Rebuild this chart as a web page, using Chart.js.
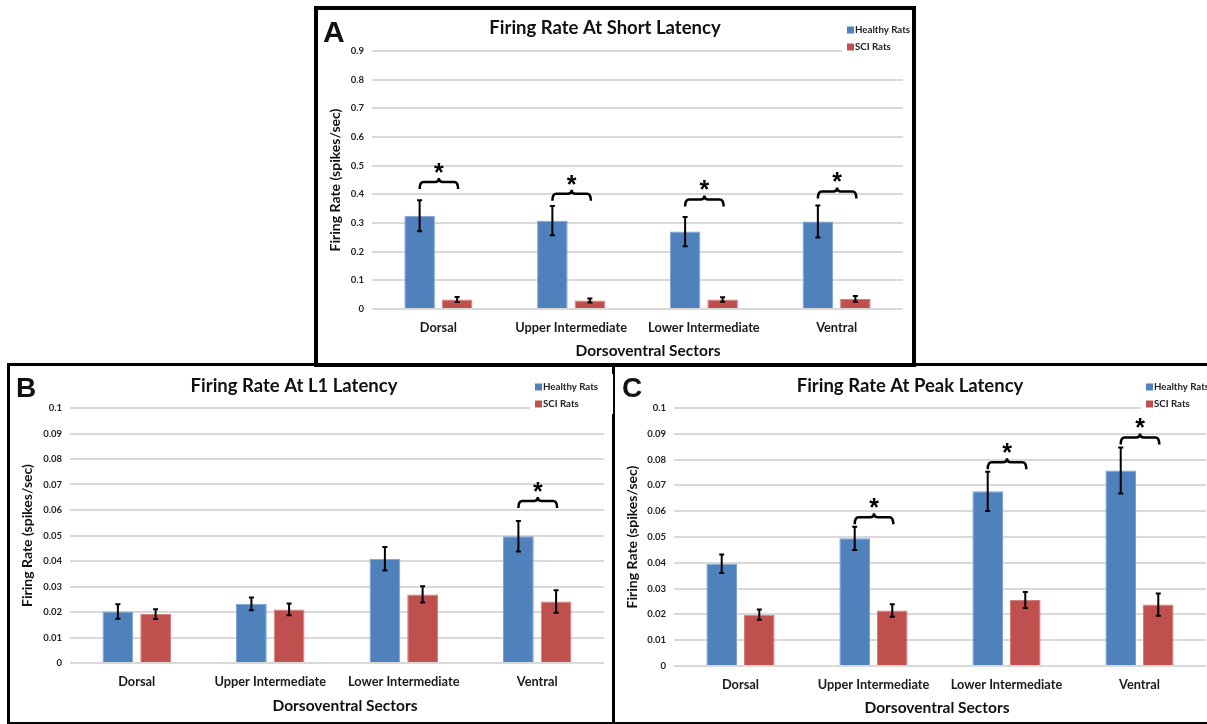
<!DOCTYPE html>
<html>
<head>
<meta charset="utf-8">
<title>Firing Rate by Dorsoventral Sector</title>
<script src="https://cdn.jsdelivr.net/npm/chart.js@4.4.1/dist/chart.umd.min.js"></script>
<style>
  body { margin: 0; width: 1207px; height: 724px; position: relative; overflow: hidden; background: #fff; }
  .box { position: absolute; border: 3px solid #000; box-sizing: border-box; background: #fff; }
  canvas { position: absolute; }
</style>
</head>
<body>
<div class="box" style="left:7px;top:363px;width:609px;height:362px"></div>
<div class="box" style="left:612px;top:363px;width:610px;height:362px"></div>
<div class="box" style="left:314px;top:6px;width:602px;height:361px;border-width:4px"></div>
<canvas id="chartA" width="594" height="353" style="left:318px;top:10px"></canvas>
<canvas id="chartB" width="603" height="355" style="left:10px;top:366px"></canvas>
<canvas id="chartC" width="592" height="355" style="left:615px;top:366px"></canvas>
<script>
// categories
const sectors = ['Dorsal', 'Upper Intermediate', 'Lower Intermediate', 'Ventral'];

// A - short latency
const healthyA = [0.325, 0.308, 0.270, 0.305];
const healthyErrA = [0.054, 0.051, 0.051, 0.056];
const sciA = [0.033, 0.030, 0.033, 0.035];
const sciErrA = [0.009, 0.007, 0.008, 0.010];
const braceA = [0.443, 0.402, 0.382, 0.410];
const yTicksA = [0, 0.1, 0.2, 0.3, 0.4, 0.5, 0.6, 0.7, 0.8, 0.9];
const yLabelsA = ['0', '0.1', '0.2', '0.3', '0.4', '0.5', '0.6', '0.7', '0.8', '0.9'];

// B - L1 latency
const healthyB = [0.0202, 0.0232, 0.0409, 0.0497];
const healthyErrB = [0.0028, 0.0025, 0.0046, 0.0060];
const sciB = [0.0192, 0.0210, 0.0269, 0.0241];
const sciErrB = [0.0019, 0.0023, 0.0032, 0.0044];
const braceB = [null, null, null, 0.0635];

// C - peak latency
const healthyC = [0.0396, 0.0495, 0.0677, 0.0758];
const healthyErrC = [0.0036, 0.0045, 0.0076, 0.0089];
const sciC = [0.0199, 0.0215, 0.0256, 0.0238];
const sciErrC = [0.0020, 0.0024, 0.0031, 0.0043];
const braceC = [null, 0.0577, 0.0790, 0.0886];

const yTicksBC = [0, 0.01, 0.02, 0.03, 0.04, 0.05, 0.06, 0.07, 0.08, 0.09, 0.1];
const yLabelsBC = ['0', '0.01', '0.02', '0.03', '0.04', '0.05', '0.06', '0.07', '0.08', '0.09', '0.1'];

const BLUE = '#4f81bd';
const RED = '#c0504d';
const FONT = 'Lato, "Open Sans", sans-serif';

// error bars, braces, legend, titles and panel letter
const decor = {
    id: 'decor',
    afterDatasetsDraw(chart, args, o) {
        const ctx = chart.ctx;
        const y = chart.scales.y;
        ctx.save();
        ctx.strokeStyle = '#000';
        ctx.lineWidth = 2;
        chart.data.datasets.forEach((ds, di) => {
            chart.getDatasetMeta(di).data.forEach((bar, i) => {
                const top = y.getPixelForValue(ds.data[i] + o.errors[di][i]);
                const bot = y.getPixelForValue(ds.data[i] - o.errors[di][i]);
                ctx.beginPath();
                ctx.moveTo(bar.x, top); ctx.lineTo(bar.x, bot);
                ctx.moveTo(bar.x - 2.5, top); ctx.lineTo(bar.x + 2.5, top);
                ctx.moveTo(bar.x - 2.5, bot); ctx.lineTo(bar.x + 2.5, bot);
                ctx.stroke();
            });
        });

        // significance braces
        const m0 = chart.getDatasetMeta(0).data;
        const m1 = chart.getDatasetMeta(1).data;
        ctx.lineWidth = 2.5;
        o.braces.forEach((lvl, i) => {
            if (lvl === null) return;
            const x1 = m0[i].x, x2 = m1[i].x + 1, xm = (x1 + x2) / 2;
            const yb = y.getPixelForValue(lvl);
            const h = 7, r = 4, p = 4;
            ctx.beginPath();
            ctx.moveTo(x1, yb + h);
            ctx.quadraticCurveTo(x1, yb, x1 + r, yb);
            ctx.lineTo(xm - r, yb);
            ctx.quadraticCurveTo(xm, yb, xm, yb - p);
            ctx.quadraticCurveTo(xm, yb, xm + r, yb);
            ctx.lineTo(x2 - r, yb);
            ctx.quadraticCurveTo(x2, yb, x2, yb + h);
            ctx.stroke();
            ctx.fillStyle = '#000';
            ctx.font = 'bold 25px "Liberation Sans", Arial, sans-serif';
            ctx.textAlign = 'center';
            ctx.textBaseline = 'alphabetic';
            ctx.fillText('*', xm, yb - 1);
        });
        ctx.restore();
    },
    afterDraw(chart, args, o) {
        const ctx = chart.ctx;
        ctx.save();
        // legend (covers the top grid line like the original)
        ctx.fillStyle = '#fff';
        ctx.fillRect(o.legendX - 5, 8, chart.width - o.legendX + 5, 40);
        chart.data.datasets.forEach((ds, di) => {
            const ly = o.legendY + di * 17;
            ctx.fillStyle = ds.backgroundColor;
            ctx.fillRect(o.legendX, ly - 3.5, 7, 7);
            ctx.fillStyle = '#222';
            ctx.font = 'bold 9.7px ' + FONT;
            ctx.textAlign = 'left';
            ctx.textBaseline = 'middle';
            ctx.fillText(ds.label, o.legendX + 8, ly);
        });
        // chart title
        ctx.fillStyle = '#111';
        ctx.font = 'bold 18.5px ' + FONT;
        ctx.textAlign = 'center';
        ctx.textBaseline = 'middle';
        ctx.fillText(o.title, o.titleX, o.titleY);
        // x axis title
        ctx.font = 'bold 15.5px ' + FONT;
        ctx.fillText('Dorsoventral Sectors', o.xTitleX, o.xTitleY);
        // panel letter
        ctx.font = 'bold ' + o.letterSize + 'px "Liberation Sans", Arial, sans-serif';
        ctx.textAlign = 'left';
        ctx.textBaseline = 'alphabetic';
        ctx.fillText(o.letter, o.letterX, o.letterY);
        ctx.restore();
    }
};

function makePanel(id, p) {
    const canvas = document.getElementById(id);
    return new Chart(canvas, {
        type: 'bar',
        data: {
            labels: sectors,
            datasets: [
                { label: 'Healthy Rats', data: p.healthy, backgroundColor: BLUE, borderColor: '#7f9fd0', borderWidth: 1 },
                { label: 'SCI Rats', data: p.sci, backgroundColor: RED, borderColor: '#d47c79', borderWidth: 1 }
            ]
        },
        options: {
            responsive: false,
            animation: false,
            devicePixelRatio: 1,
            layout: { padding: { top: p.chartTop, left: 0, right: p.padRight, bottom: 0 } },
            datasets: { bar: { categoryPercentage: 0.565, barPercentage: 0.815 } },
            plugins: {
                legend: { display: false },
                tooltip: { enabled: false },
                decor: {
                    errors: [p.healthyErr, p.sciErr],
                    braces: p.braces,
                    title: p.title,
                    titleX: p.titleX,
                    titleY: p.titleY,
                    xTitleX: p.xTitleX,
                    xTitleY: p.xTitleY,
                    legendX: p.legendX,
                    legendY: p.legendY,
                    letter: p.letter,
                    letterX: p.letterX,
                    letterY: p.letterY,
                    letterSize: p.letterSize
                }
            },
            scales: {
                x: {
                    grid: { display: false },
                    border: { display: false },
                    ticks: { padding: 3, color: '#1a1a1a', font: { family: FONT, size: 12.8, weight: 'bold' } },
                    afterFit: s => { s.height = canvas.height - p.chartBottom; }
                },
                y: {
                    min: 0,
                    max: p.yMax,
                    afterBuildTicks: s => { s.ticks = p.yTicks.map(v => ({ value: v })); },
                    ticks: {
                        padding: 8,
                        color: '#222',
                        font: { family: FONT, size: 9.5, weight: 'bold' },
                        callback: (v, i) => p.yLabels[i]
                    },
                    grid: { color: '#d9d9d9', lineWidth: 2, drawTicks: false },
                    border: { display: false },
                    title: {
                        display: true,
                        text: 'Firing Rate (spikes/sec)',
                        color: '#111',
                        font: { family: FONT, size: 14, weight: 'bold' },
                        padding: { top: 9, bottom: 0 }
                    },
                    afterFit: s => { s.width = p.chartLeft; }
                }
            }
        },
        plugins: [decor]
    });
}

makePanel('chartA', {
    healthy: healthyA, healthyErr: healthyErrA, sci: sciA, sciErr: sciErrA, braces: braceA,
    yMax: 0.9, yTicks: yTicksA, yLabels: yLabelsA,
    chartTop: 41, chartLeft: 54, padRight: 9, chartBottom: 299,
    title: 'Firing Rate At Short Latency', titleX: 287, titleY: 18, legendX: 529, legendY: 20,
    xTitleX: 330, xTitleY: 341,
    letter: 'A', letterX: 5, letterY: 32, letterSize: 30
});

makePanel('chartB', {
    healthy: healthyB, healthyErr: healthyErrB, sci: sciB, sciErr: sciErrB, braces: braceB,
    yMax: 0.1, yTicks: yTicksBC, yLabels: yLabelsBC,
    chartTop: 42, chartLeft: 60, padRight: 9, chartBottom: 297,
    title: 'Firing Rate At L1 Latency', titleX: 284, titleY: 20, legendX: 525, legendY: 21,
    xTitleX: 335, xTitleY: 340,
    letter: 'B', letterX: 6, letterY: 31, letterSize: 28
});

makePanel('chartC', {
    healthy: healthyC, healthyErr: healthyErrC, sci: sciC, sciErr: sciErrC, braces: braceC,
    yMax: 0.1, yTicks: yTicksBC, yLabels: yLabelsBC,
    chartTop: 42, chartLeft: 59, padRight: 1, chartBottom: 300,
    title: 'Firing Rate At Peak Latency', titleX: 295, titleY: 20, legendX: 531, legendY: 21,
    xTitleX: 322, xTitleY: 342,
    letter: 'C', letterX: 7, letterY: 31, letterSize: 28
});
</script>
</body>
</html>
